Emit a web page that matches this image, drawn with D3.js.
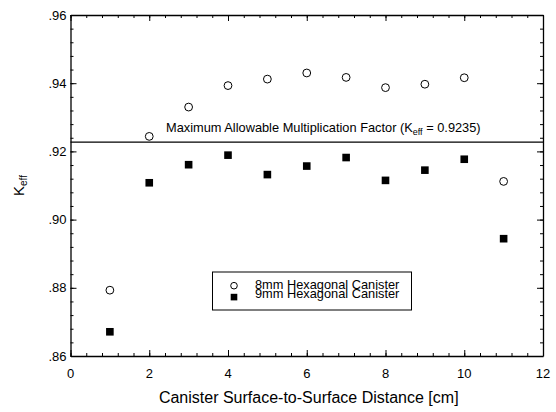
<!DOCTYPE html>
<head>
    <meta charset="utf-8">
    <title>Keff vs canister distance</title>
    <script src="https://d3js.org/d3.v7.min.js"></script>
</head>
<body>
<svg id="chart" width="556" height="412"></svg>
</body>

<script>

    var distance = [1, 2, 3, 4, 5, 6, 7, 8, 9, 10, 11]
    var hex8mm = [0.8793, 0.9244, 0.9330, 0.9393, 0.9412, 0.9430, 0.9417, 0.9387, 0.9397, 0.9416, 0.9112]
    var hex9mm = [0.8671, 0.9108, 0.9161, 0.9189, 0.9132, 0.9157, 0.9182, 0.9115, 0.9145, 0.9177, 0.8944]
    var xTicks = [0, 2, 4, 6, 8, 10, 12]
    var yTicks = [0.86, 0.88, 0.90, 0.92, 0.94, 0.96]
    var limitLine = 0.9227
    var seriesNames = ["8mm Hexagonal Canister", "9mm Hexagonal Canister"]

    var plotL = 70.5, plotR = 543, plotT = 15, plotB = 356

    var svg = d3.select("#chart")
    var font = "Liberation Sans, Arial, sans-serif"

    var x = d3.scaleLinear().domain([0, 12]).range([plotL, plotR])
    var y = d3.scaleLinear().domain([0.86, 0.96]).range([plotB, plotT])

    var xMinor = d3.range(0, 12.001, 0.4).map(function(d) { return +d.toFixed(1) })
    var yMinor = d3.range(0.86, 0.9601, 0.004).map(function(d) { return +d.toFixed(3) })

    // axes: ticks point inward, on all four sides
    function axisSide(gen, tr, major, minor) {
        svg.append("g").attr("transform", tr)
            .call(gen.tickValues(minor).tickSize(-3).tickFormat(""))
            .call(function(g) { g.select(".domain").remove() })
        svg.append("g").attr("transform", tr)
            .call(gen.tickValues(major).tickSize(-6).tickFormat("").tickSizeOuter(0))
    }

    axisSide(d3.axisBottom(x), "translate(0," + plotB + ")", xTicks, xMinor)
    axisSide(d3.axisTop(x), "translate(0," + plotT + ")", xTicks, xMinor)
    axisSide(d3.axisLeft(y), "translate(" + plotL + ",0)", yTicks, yMinor)
    axisSide(d3.axisRight(y), "translate(" + plotR + ",0)", yTicks, yMinor)

    svg.selectAll(".domain").attr("stroke", "#000").attr("stroke-width", 1.3)
    svg.selectAll(".tick line").attr("stroke", "#000").attr("stroke-width", 1)

    // tick labels
    svg.selectAll(".xlab").data(xTicks).enter().append("text")
        .attr("x", function(d) { return x(d) })
        .attr("y", plotB + 22)
        .attr("text-anchor", "middle")
        .style("font-family", font).style("font-size", "13px")
        .text(function(d) { return d })

    svg.selectAll(".ylab").data(yTicks).enter().append("text")
        .attr("x", plotL - 4)
        .attr("y", function(d) { return y(d) + 4.5 })
        .attr("text-anchor", "end")
        .style("font-family", font).style("font-size", "13px")
        .text(function(d) { return d.toFixed(2).replace("0.", ".") })

    // axis titles
    svg.append("text")
        .attr("x", (plotL + plotR) / 2 + 2).attr("y", 403)
        .attr("text-anchor", "middle")
        .style("font-family", font).style("font-size", "16px")
        .text("Canister Surface-to-Surface Distance [cm]")

    var yt = svg.append("text")
        .attr("transform", "translate(24," + ((plotT + plotB) / 2) + ") rotate(-90)")
        .attr("text-anchor", "middle")
        .style("font-family", font).style("font-size", "15px")
    yt.append("tspan").text("K")
    yt.append("tspan").attr("dy", 3).style("font-size", "10px").text("eff")

    // limit line and its label
    svg.append("line")
        .attr("x1", plotL).attr("x2", plotR)
        .attr("y1", y(limitLine)).attr("y2", y(limitLine))
        .attr("stroke", "#000").attr("stroke-width", 1.3)

    var lt = svg.append("text")
        .attr("x", 166).attr("y", 132)
        .style("font-family", font).style("font-size", "12.8px")
    lt.append("tspan").text("Maximum Allowable Multiplication Factor (K")
    lt.append("tspan").attr("dy", 3).style("font-size", "9px").text("eff")
    lt.append("tspan").attr("dy", -3).text(" = 0.9235)")

    // data points
    svg.selectAll(".sq").data(distance).enter().append("rect")
        .attr("x", function(d) { return x(d) - 3.8 })
        .attr("y", function(d, i) { return y(hex9mm[i]) - 3.8 })
        .attr("width", 7.6).attr("height", 7.6)
        .attr("fill", "#000")

    svg.selectAll(".ci").data(distance).enter().append("circle")
        .attr("cx", function(d) { return x(d) })
        .attr("cy", function(d, i) { return y(hex8mm[i]) })
        .attr("r", 3.9)
        .attr("fill", "#fff").attr("stroke", "#000").attr("stroke-width", 1)

    // legend
    var lg = svg.append("g")
    lg.append("rect")
        .attr("x", 212.5).attr("y", 272).attr("width", 199).attr("height", 38)
        .attr("fill", "#fff").attr("stroke", "#000").attr("stroke-width", 1)
    lg.append("circle").attr("cx", 234).attr("cy", 285.7).attr("r", 3.3)
        .attr("fill", "#fff").attr("stroke", "#000")
    lg.append("rect").attr("x", 230.7).attr("y", 293.8).attr("width", 6.6).attr("height", 6.6)
        .attr("fill", "#000")
    lg.selectAll(".lt").data(seriesNames).enter().append("text")
        .attr("x", 255)
        .attr("y", function(d, i) { return 289.3 + i * 9 })
        .style("font-family", font).style("font-size", "12.8px")
        .text(function(d) { return d })

</script>

<style>
    html, body { margin: 0; background: #fff; }
    svg { display: block; background: #fff; }
</style>
</html>
